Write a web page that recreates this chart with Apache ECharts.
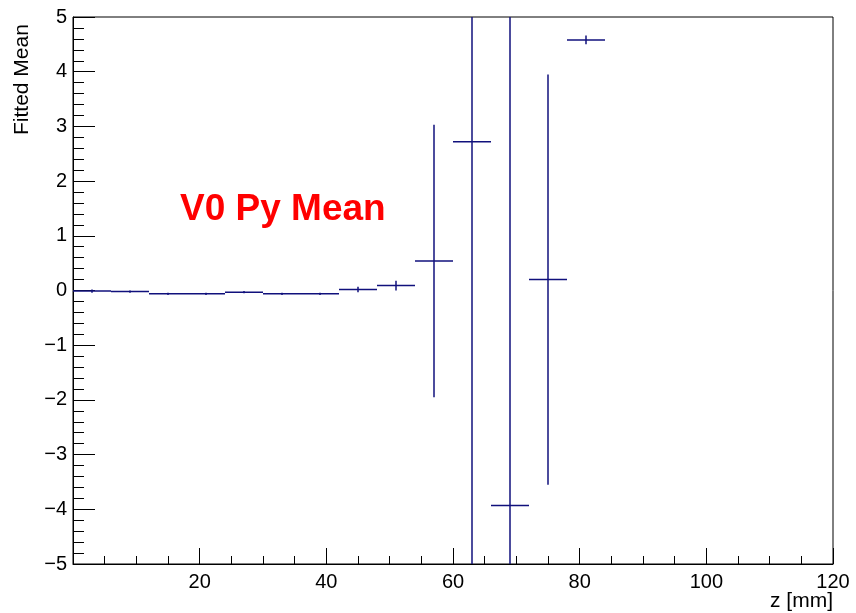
<!DOCTYPE html>
<html>
<head>
<meta charset="utf-8">
<script src="https://cdn.jsdelivr.net/npm/echarts@6/dist/echarts.min.js"></script>
<style>
	html, body { margin: 0; padding: 0; background: #fff; }
	#chart { width: 856px; height: 613px; }
</style>
</head>
<body>
<div id="chart"></div>
<script>
// bin centres along z [mm], each bin is 6 mm wide
var binCenters = [3, 9, 15, 21, 27, 33, 39, 45, 51, 57, 63, 69, 75, 81];
var meanValues = [-0.01, -0.02, -0.06, -0.06, -0.03, -0.06, -0.06, 0.02, 0.09, 0.54, 2.72, -3.93, 0.20, 4.58];
var meanErrors = [0.03, 0.02, 0.02, 0.02, 0.02, 0.02, 0.02, 0.05, 0.09, 2.49, 9.5, 10.0, 3.75, 0.08];
var binWidth = 6;
var xTickLabels = ['20', '40', '60', '80', '100', '120'];

var yMin = -5, yMax = 5;
var lineColor = '#10107c';
var font = 'Liberation Sans, Arial, Helvetica, sans-serif';

var points = [];
for (var i = 0; i < binCenters.length; i++) {
	points.push([binCenters[i], meanValues[i], meanErrors[i]]);
}

var myChart = echarts.init(document.getElementById('chart'));
var option = {
	animation: false,
	backgroundColor: '#fff',
	grid: {
		left: 73,
		right: 23,
		top: 17,
		bottom: 49,
		show: true,
		borderColor: '#000',
		borderWidth: 1,
		backgroundColor: 'transparent'
	},
	xAxis: {
		type: 'value',
		min: 0,
		max: 120,
		interval: 20,
		axisLine: { show: true, onZero: false, lineStyle: { color: '#000', width: 1 } },
		axisTick: { show: true, inside: true, length: 16, lineStyle: { color: '#000' } },
		minorTick: { show: true, splitNumber: 4, length: 8, lineStyle: { color: '#000' } },
		splitLine: { show: false },
		axisLabel: {
			color: '#000',
			fontSize: 20,
			fontFamily: font,
			margin: 8,
			formatter: function (v) {
				return xTickLabels.indexOf(String(v)) >= 0 ? String(v) : '';
			}
		}
	},
	yAxis: {
		type: 'value',
		min: yMin,
		max: yMax,
		interval: 1,
		axisLine: { show: true, onZero: false, lineStyle: { color: '#000', width: 1 } },
		axisTick: { show: true, inside: true, length: 22, lineStyle: { color: '#000' } },
		minorTick: { show: true, splitNumber: 5, length: 11, lineStyle: { color: '#000' } },
		splitLine: { show: false },
		axisLabel: {
			color: '#000',
			fontSize: 20,
			fontFamily: font,
			margin: 6,
			formatter: function (v) {
				return v < 0 ? '\u2212' + Math.abs(v) : String(v);
			}
		}
	},
	graphic: [
		{
			type: 'text',
			x: 12,
			y: 135,
			rotation: Math.PI / 2,
			style: {
				text: 'Fitted Mean',
				fill: '#000',
				font: '21px ' + font
			}
		},
		{
			type: 'text',
			right: 23,
			top: 591,
			style: {
				text: 'z [mm]',
				fill: '#000',
				font: '21px ' + font
			}
		},
		{
			type: 'text',
			left: 180,
			top: 191,
			style: {
				text: 'V0 Py Mean',
				fill: '#ff0000',
				font: 'bold 37px ' + font
			}
		}
	],
	series: [
		{
			name: 'Fitted Mean',
			type: 'custom',
			data: points,
			renderItem: function (params, api) {
				var x = api.value(0), y = api.value(1), e = api.value(2);
				var l = api.coord([x - binWidth / 2, y]);
				var r = api.coord([x + binWidth / 2, y]);
				var t = api.coord([x, Math.min(y + e, yMax)]);
				var b = api.coord([x, Math.max(y - e, yMin)]);
				var style = { stroke: lineColor, lineWidth: 1.5 };
				return {
					type: 'group',
					children: [
						{ type: 'line', shape: { x1: l[0], y1: l[1], x2: r[0], y2: r[1] }, style: style },
						{ type: 'line', shape: { x1: t[0], y1: t[1], x2: b[0], y2: b[1] }, style: style }
					]
				};
			}
		}
	]
};
myChart.setOption(option);
</script>
</body>
</html>
